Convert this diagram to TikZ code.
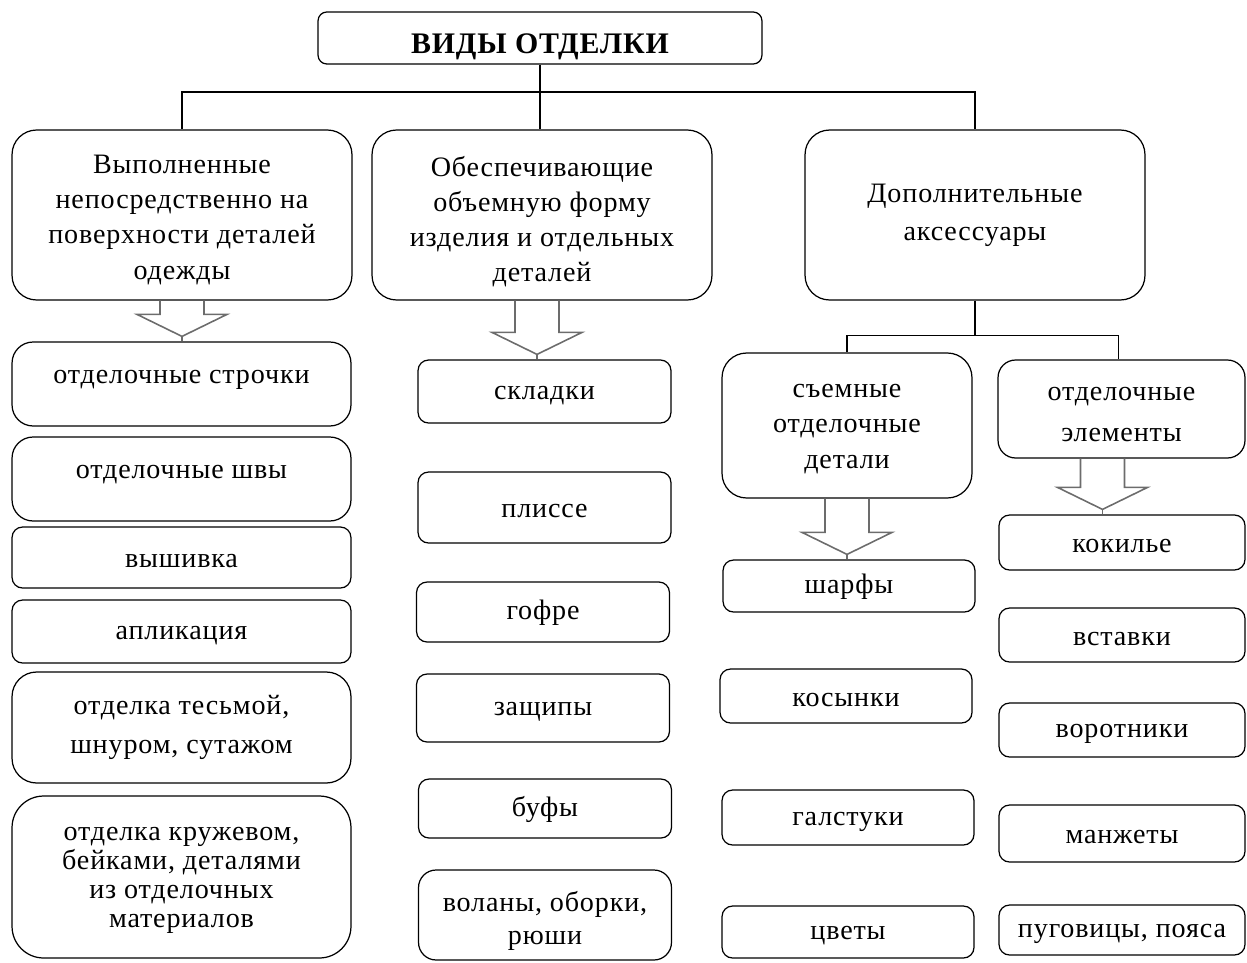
\documentclass[tikz,border=0pt]{standalone}
\usepackage{fontspec}
\setmainfont{Liberation Serif}[LetterSpace=3]
\usetikzlibrary{calc}

\tikzset{
  bigbox/.style={draw, line width=0.7pt, rounded corners=14pt, align=center, inner sep=2pt, font=\fontsize{16}{20}\selectfont},
  itembox/.style={draw, line width=0.7pt, rounded corners=6pt, align=center, inner sep=2pt, font=\fontsize{16}{20}\selectfont},
  oneline/.style={itembox, text height=12pt},
  hollow/.style={draw=gray!85!black, line width=0.9pt, line join=miter},
  link/.style={line width=0.7pt}
}

% strut on the first line, pushes the text down
\newcommand{\topstrut}[1]{\rule{0pt}{#1}}

% hollow block arrow: from node, to node, x shift
\newcommand{\hollowarrow}[3]{%
  \coordinate (ha-s) at ($(#1.south)+(#3,0)$);
  \coordinate (ha-t) at ($(#1.south |- #2.north)+(#3,-5)$);
  \draw[hollow] ($(ha-s)+(-22,0)$) -- ($(ha-t)+(-22,-22)$) -- ($(ha-t)+(-45,-22)$) -- (ha-t)
    -- ($(ha-t)+(45,-22)$) -- ($(ha-t)+(22,-22)$) -- ($(ha-s)+(22,0)$);
  \draw[hollow] (ha-t) -- (ha-t |- #2.north);
}

\begin{document}
\begin{tikzpicture}[x=0.02cm, y=-0.02cm]
            \useasboundingbox (0,0) rectangle (1247,963);

            % Root node
            \node[draw, line width=0.7pt, rounded corners=5pt, minimum width=8.88cm, minimum height=1.04cm,
              inner sep=2pt, text height=21pt, font=\bfseries\fontsize{17}{20}\selectfont] (root) at (540,38) {ВИДЫ ОТДЕЛКИ};

            % Second stage nodes
            \node[bigbox, minimum width=6.8cm, minimum height=3.4cm] (surface) at (182,215)
              {\topstrut{16pt}Выполненные\\непосредственно на\\поверхности деталей\\одежды};
            \node[bigbox, minimum width=6.8cm, minimum height=3.4cm] (volume) at (542,215)
              {\topstrut{19pt}Обеспечивающие\\объемную форму\\изделия и отдельных\\деталей};
            \node[bigbox, minimum width=6.8cm, minimum height=3.4cm,
              font=\fontsize{16}{21.5}\selectfont] (extra) at (975,215)
              {Дополнительные\\аксессуары};
            \coordinate (bus) at (540,92);
            \draw[link] (root) -- (bus) -| (surface);
            \draw[link] (bus) -| (extra);
            \draw[link] (bus) -- (bus |- volume.north);

            % Third stage nodes (accessories)
            \node[bigbox, minimum width=5cm, minimum height=2.9cm] (removable) at (847,425.5)
              {\topstrut{11.5pt}съемные\\отделочные\\детали};
            \node[bigbox, rounded corners=10pt, minimum width=4.94cm, minimum height=1.96cm,
              font=\fontsize{16}{23}\selectfont] (elements) at (1121.5,409)
              {\topstrut{14pt}отделочные\\элементы};
            \coordinate (subbus) at ($(extra.south)+(0,35)$);
            \draw[link] (extra) -- (subbus) -| (removable);
            \draw[link] (subbus) -| ($(elements.north)+(-3,0)$);

            % Items on the surface
            \node[oneline, rounded corners=12pt, minimum width=6.78cm, minimum height=1.68cm, text depth=13pt] (s1) at (181.5,384) {отделочные строчки};
            \node[oneline, rounded corners=12pt, minimum width=6.78cm, minimum height=1.68cm, text depth=13pt] (s2) at (181.5,479) {отделочные швы};
            \node[oneline, minimum width=6.78cm, minimum height=1.22cm] (s3) at (181.5,557.5) {вышивка};
            \node[oneline, minimum width=6.78cm, minimum height=1.26cm] (s4) at (181.5,631.5) {апликация};
            \node[itembox, rounded corners=14pt, minimum width=6.78cm, minimum height=2.22cm,
              font=\fontsize{16}{22}\selectfont] (s5) at (181.5,727.5) {отделка тесьмой,\\шнуром, сутажом};
            \node[itembox, rounded corners=18pt, minimum width=6.78cm, minimum height=3.24cm,
              font=\fontsize{16}{16.5}\selectfont] (s6) at (181.5,877) {\topstrut{11pt}отделка кружевом,\\бейками, деталями\\из отделочных\\материалов};
            \hollowarrow{surface}{s1}{0}

            % Items of the volume
            \node[oneline, minimum width=5.06cm, minimum height=1.26cm] (v1) at (544.5,391.5) {складки};
            \node[oneline, minimum width=5.06cm, minimum height=1.42cm] (v2) at (544.5,507.5) {плиссе};
            \node[oneline, minimum width=5.06cm, minimum height=1.2cm] (v3) at (543,612) {гофре};
            \node[oneline, minimum width=5.06cm, minimum height=1.36cm] (v4) at (543,708) {защипы};
            \node[oneline, minimum width=5.06cm, minimum height=1.18cm] (v5) at (545,808.5) {буфы};
            \node[itembox, rounded corners=10pt, minimum width=5.06cm, minimum height=1.8cm,
              font=\fontsize{16}{19}\selectfont] (v6) at (545,915) {\topstrut{18pt}воланы, оборки,\\рюши};
            \hollowarrow{volume}{v1}{-5}

            % Removable details
            \node[oneline, minimum width=5.04cm, minimum height=1.04cm] (r1) at (849,586) {шарфы};
            \node[oneline, minimum width=5.04cm, minimum height=1.08cm] (r2) at (846,696) {косынки};
            \node[oneline, minimum width=5.04cm, minimum height=1.1cm] (r3) at (848,817.5) {галстуки};
            \node[oneline, minimum width=5.04cm, minimum height=1.04cm] (r4) at (848,932) {цветы};
            \hollowarrow{removable}{r1}{0}

            % Finishing elements
            \node[oneline, minimum width=4.92cm, minimum height=1.1cm] (e1) at (1122,542.5) {кокилье};
            \node[oneline, minimum width=4.92cm, minimum height=1.08cm] (e2) at (1122,635) {вставки};
            \node[oneline, minimum width=4.92cm, minimum height=1.08cm] (e3) at (1122,730) {воротники};
            \node[oneline, minimum width=4.92cm, minimum height=1.14cm] (e4) at (1122,833.5) {манжеты};
            \node[oneline, minimum width=4.92cm, minimum height=1.0cm] (e5) at (1122,930) {пуговицы, пояса};
            \hollowarrow{elements}{e1}{-19}
        \end{tikzpicture}
\end{document}
